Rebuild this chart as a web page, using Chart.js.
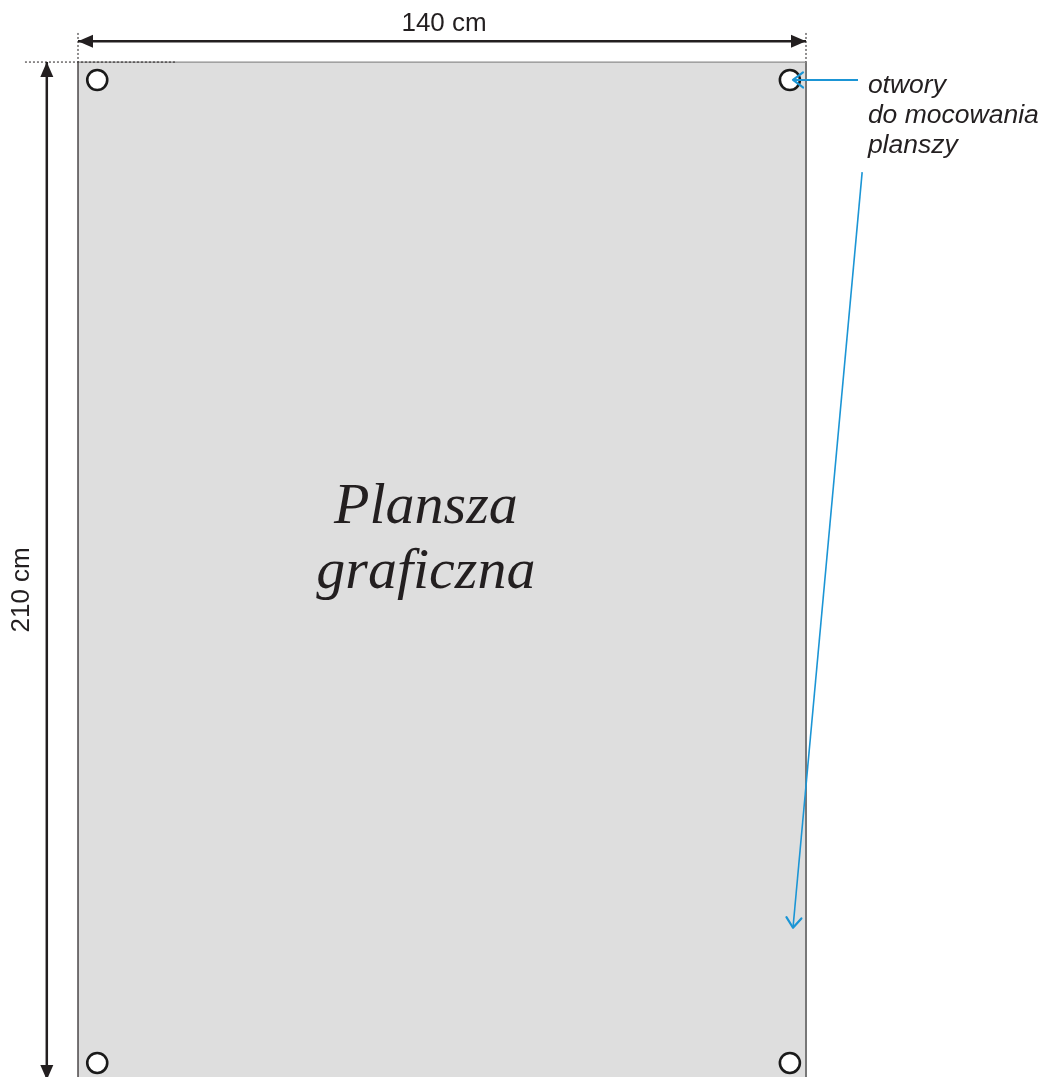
<!DOCTYPE html>
<html lang="pl">
<head>
<meta charset="utf-8">
<title>Plansza graficzna 140 x 210 cm</title>
<script src="https://cdn.jsdelivr.net/npm/chart.js@4.4.1/dist/chart.umd.min.js"></script>
<style>
  html, body { margin: 0; padding: 0; background: #fff; }
  #wrap { position: relative; width: 1053px; height: 1077px; }
</style>
</head>
<body>
<div id="wrap"><canvas id="sheet"></canvas></div>
<script>
// ---------- Data (all in cm) ----------
const SHEET = [140, 210];                 // width, height
const VIEW_X = [-15, 187.5];              // visible range of the drawing
const VIEW_Y = [-12.8, 209.4];
const HOLE_X = [3.7, 136.9];
const HOLE_Y = [3.7, 206.5];
const DIM_TOP_Y = -4.3;                   // horizontal dimension line
const DIM_LEFT_X = -6.0;                  // vertical dimension line
const EXT_TOP = -6.0;                     // top of the dotted extension lines
const EXT_LEFT = [-10.2, 19];             // dotted line along the top edge
const DIM_LABELS = ['140 cm', '210 cm'];
const DIM_LABEL_AT = [[70.4, -7.8], [-10.8, 108.9]];
const TITLE = ['Plansza', 'graficzna'];
const TITLE_AT = [66.9, 95.1, 108.5];     // x, baseline 1, baseline 2
const NOTE = ['otwory', 'do mocowania', 'planszy'];
const NOTE_AT = [151.9, 6.33, 6.19];      // x, first baseline, line step
const POINTER_1 = [[150, 3.7], [137.5, 3.7]];
const POINTER_2 = [[150.8, 22.7], [137.5, 178.6]];

const INK = '#231f20';
const BLUE = '#1b95d5';
const PAPER = '#dedede';

const pt = (x, y) => ({ x, y });

function seg(a, b, extra) {
  return Object.assign({
    data: [pt(a[0], a[1]), pt(b[0], b[1])],
    showLine: true,
    pointRadius: 0,
    pointHoverRadius: 0,
    fill: false,
    borderWidth: 1,
    borderColor: INK,
    order: 5,
  }, extra);
}

const [W, H] = SHEET;

const datasets = [
  // paper
  seg([0, 0], [W, 0], { fill: { value: H }, backgroundColor: PAPER, borderWidth: 0, order: 20 }),
  // sheet edges
  seg([0, 0], [W, 0], { borderColor: '#8c8c8c', borderWidth: 1.2, order: 15 }),
  seg([W, 0], [W, H], { borderColor: '#777777', borderWidth: 2, order: 15 }),
  seg([0, 0], [0, H], { borderColor: INK, borderWidth: 1.2, order: 15 }),
  // dotted extension lines
  seg([0, EXT_TOP], [0, 0], { borderDash: [2, 2], order: 14 }),
  seg([W, EXT_TOP], [W, 0], { borderDash: [2, 2], order: 14 }),
  seg([EXT_LEFT[0], 0], [EXT_LEFT[1], 0], { borderDash: [2, 2], order: 14 }),
  // dimension lines
  seg([0, DIM_TOP_Y], [W, DIM_TOP_Y], { borderWidth: 2.5, arrow: 'both' }),
  seg([DIM_LEFT_X, 0], [DIM_LEFT_X, H], { borderWidth: 2.5, arrow: 'both' }),
  // mounting holes
  {
    data: HOLE_Y.flatMap(y => HOLE_X.map(x => pt(x, y))),
    showLine: false,
    pointStyle: 'circle',
    pointRadius: 10,
    pointHoverRadius: 10,
    pointBorderWidth: 2.6,
    pointBorderColor: '#1a1a1a',
    pointBackgroundColor: '#ffffff',
    order: 3,
  },
  // pointers
  seg(POINTER_1[0], POINTER_1[1], { borderColor: BLUE, borderWidth: 2, arrow: 'end', arrowOpen: true, order: 1 }),
  seg(POINTER_2[0], POINTER_2[1], { borderColor: BLUE, borderWidth: 1.6, arrow: 'end', arrowOpen: true, order: 1 }),
];

// ---------- Arrow heads ----------
const arrowPlugin = {
  id: 'arrows',
  afterDatasetsDraw(chart) {
    const ctx = chart.ctx;
    chart.data.datasets.forEach((ds, i) => {
      if (!ds.arrow) return;
      const pts = chart.getDatasetMeta(i).data;
      const ends = [];
      if (ds.arrow === 'both' || ds.arrow === 'start') ends.push([pts[0], pts[1]]);
      if (ds.arrow === 'both' || ds.arrow === 'end') ends.push([pts[pts.length - 1], pts[pts.length - 2]]);
      ends.forEach(([tip, from]) => {
        const a = Math.atan2(tip.y - from.y, tip.x - from.x);
        ctx.save();
        ctx.translate(tip.x, tip.y);
        ctx.rotate(a);
        if (ds.arrowOpen) {
          ctx.strokeStyle = ds.borderColor;
          ctx.lineWidth = 2.2;
          ctx.lineCap = 'round';
          ctx.lineJoin = 'round';
          ctx.beginPath();
          ctx.moveTo(-10, -7.5);
          ctx.lineTo(0, 0);
          ctx.lineTo(-10, 7.5);
          ctx.stroke();
        } else {
          ctx.fillStyle = ds.borderColor;
          ctx.beginPath();
          ctx.moveTo(0, 0);
          ctx.lineTo(-15, -6.5);
          ctx.lineTo(-15, 6.5);
          ctx.closePath();
          ctx.fill();
        }
        ctx.restore();
      });
    });
  }
};

// ---------- Texts ----------
const textPlugin = {
  id: 'texts',
  afterDraw(chart) {
    const { ctx, scales: { x, y } } = chart;
    ctx.save();
    ctx.fillStyle = INK;

    ctx.font = '26px "Liberation Sans", Arial, sans-serif';
    ctx.textAlign = 'center';
    ctx.textBaseline = 'middle';
    ctx.fillText(DIM_LABELS[0], x.getPixelForValue(DIM_LABEL_AT[0][0]), y.getPixelForValue(DIM_LABEL_AT[0][1]));
    ctx.save();
    ctx.translate(x.getPixelForValue(DIM_LABEL_AT[1][0]), y.getPixelForValue(DIM_LABEL_AT[1][1]));
    ctx.rotate(-Math.PI / 2);
    ctx.fillText(DIM_LABELS[1], 0, 0);
    ctx.restore();

    ctx.font = 'italic 58px "Liberation Serif", "Times New Roman", serif';
    ctx.textBaseline = 'alphabetic';
    TITLE.forEach((t, i) => {
      ctx.fillText(t, x.getPixelForValue(TITLE_AT[0]), y.getPixelForValue(TITLE_AT[1 + i]));
    });

    ctx.font = 'italic 26.5px "Liberation Sans", Arial, sans-serif';
    ctx.textAlign = 'left';
    NOTE.forEach((t, i) => {
      ctx.fillText(t, x.getPixelForValue(NOTE_AT[0]), y.getPixelForValue(NOTE_AT[1] + i * NOTE_AT[2]));
    });
    ctx.restore();
  }
};

new Chart(document.getElementById('sheet'), {
  type: 'scatter',
  data: { datasets },
  options: {
    responsive: true,
    maintainAspectRatio: false,
    animation: false,
    events: [],
    layout: { padding: 0, autoPadding: false },
    plugins: { legend: { display: false }, tooltip: { enabled: false } },
    scales: {
      x: { type: 'linear', min: VIEW_X[0], max: VIEW_X[1], display: false },
      y: { type: 'linear', min: VIEW_Y[0], max: VIEW_Y[1], reverse: true, display: false },
    },
  },
  plugins: [arrowPlugin, textPlugin],
});
</script>
</body>
</html>
